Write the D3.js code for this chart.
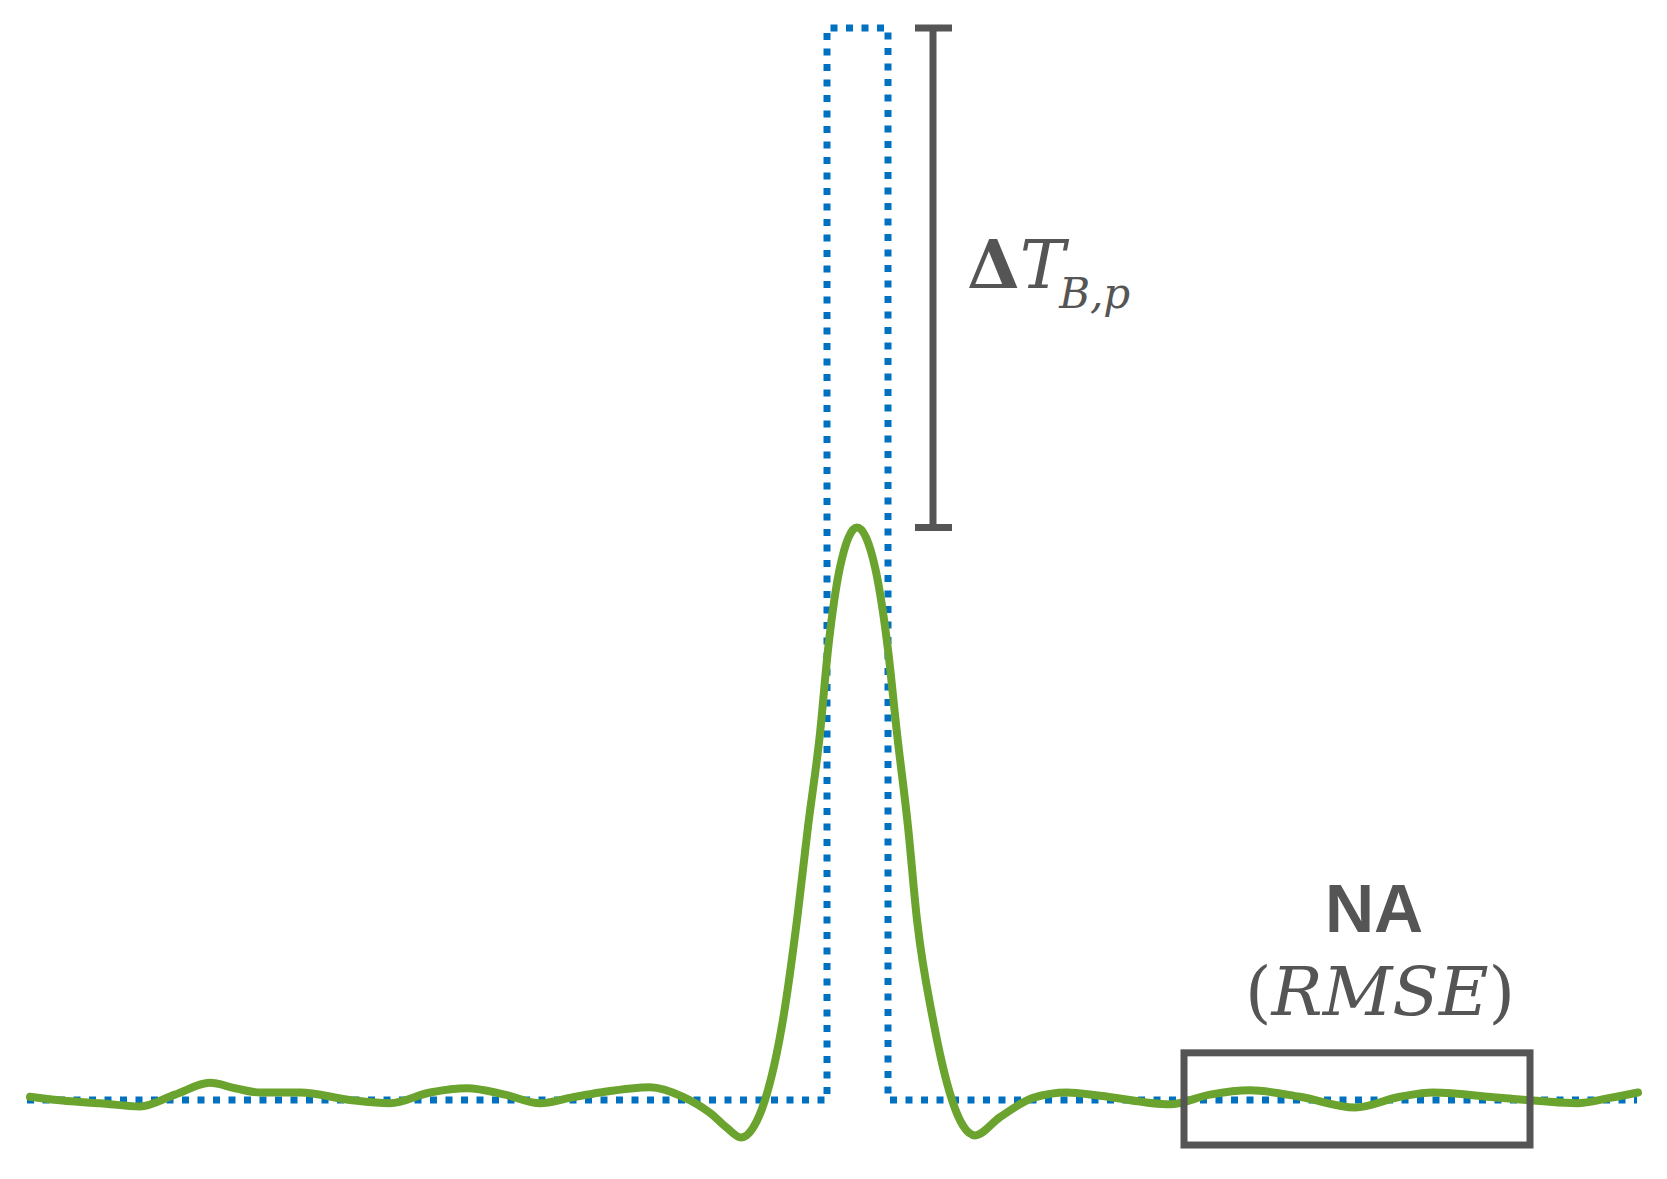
<!DOCTYPE html>
<head>
  <meta charset="utf-8">
  <script src="https://d3js.org/d3.v7.min.js"></script>
  <style>
    body { margin: 0; background: #fff; }
    .pulse { fill: none; stroke: #0070c0; stroke-width: 7px; stroke-dasharray: 7 8.5; }
    .resp { fill: none; stroke: #6aa32d; stroke-width: 8px; stroke-linejoin: round; stroke-linecap: round; }
    .anno { fill: none; stroke: #555; stroke-width: 7px; }
    .lbl { fill: #555; }
  </style>
</head>

<body>
  <script>

    // true brightness-temperature step (blue dotted)
    var pulseX = [-83, -3, -3, 3.1, 3.1, 78];
    var pulseY = [0, 0, 1, 1, 0, 0];

    // retrieved / smoothed response (green)
    var respX = [-82.7, -79, -75.7, -71.7, -68.2, -64.7, -62.2, -59.7, -55.7, -50.7,
                 -46.7, -42.7, -39, -35.2, -31.7, -28.7, -25.7, -20.7, -17.4, -14.7,
                 -13, -11.6, -10.4, -9.2, -7.4, -6, -4.9, -3.7, -2.9, -1.7,
                 0, 1.8, 3.1, 4.0, 5.1, 6.0, 7.6, 9.5, 10.6, 11.8,
                 14.3, 17.6, 21, 24.3, 31.3, 35.3, 39.3, 44.3, 49.8, 54.3,
                 57.6, 64.3, 68.3, 72, 75.3, 78.1];
    var respY = [0.003, -0.001, -0.003, -0.006, 0.005, 0.016, 0.011, 0.007, 0.007, 0.0,
                 -0.003, 0.007, 0.011, 0.005, -0.003, 0.002, 0.007, 0.012, 0.003, -0.012,
                 -0.026, -0.035, -0.026, 0, 0.075, 0.168, 0.255, 0.342, 0.42, 0.497,
                 0.534, 0.497, 0.42, 0.342, 0.255, 0.168, 0.075, 0, -0.024, -0.033,
                 -0.016, 0.002, 0.007, 0.004, -0.004, 0.005, 0.009, 0.003, -0.007, 0.003,
                 0.007, 0.002, -0.001, -0.003, 0.002, 0.007];

    // annotations
    var barX = 7.6;              // peak-difference bar
    var windowX = [32.7, 67.3];  // noise window
    var windowY = [-0.042, 0.044];
    var naLabelX = 52;

    var svg = d3.select("body").append("svg")
      .attr("width", 1667)
      .attr("height", 1179);

    var x = d3.scaleLinear().domain([-83, 78]).range([27, 1637]);
    var y = d3.scaleLinear().domain([0, 1]).range([1100, 28]);

    var pulse = pulseX.map(function(v, i) { return [v, pulseY[i]]; });
    var resp = respX.map(function(v, i) { return [v, respY[i]]; });

    var stepLine = d3.line()
        .x(function(d) { return x(d[0]); })
        .y(function(d) { return y(d[1]); });

    var smoothLine = d3.line()
        .curve(d3.curveMonotoneX)
        .x(function(d) { return x(d[0]); })
        .y(function(d) { return y(d[1]); });

    svg.append("path").datum(pulse)
      .attr("class", "pulse")
      .attr("d", stepLine);

    svg.append("path").datum(resp)
      .attr("class", "resp")
      .attr("d", smoothLine);

    // error bar between top of pulse and green peak
    var peak = d3.max(respY);
    var bx = x(barX);
    var g = svg.append("g");
    g.append("line").attr("class", "anno")
      .attr("x1", bx).attr("x2", bx)
      .attr("y1", y(1)).attr("y2", y(peak));
    [1, peak].forEach(function(v) {
      g.append("line").attr("class", "anno")
        .attr("x1", bx - 18).attr("x2", bx + 19)
        .attr("y1", y(v)).attr("y2", y(v));
    });

    var t = svg.append("text").attr("class", "lbl")
      .attr("x", bx + 34).attr("y", 288)
      .style("font-family", "'DejaVu Serif', 'Liberation Serif', serif")
      .style("font-size", "68px");
    t.append("tspan").style("font-weight", "bold").text("\u0394");
    t.append("tspan").style("font-style", "italic").text("T");
    t.append("tspan").style("font-style", "italic").style("font-size", "42px")
      .attr("dy", 20).attr("dx", -6).text("B,p");

    // noise window
    svg.append("rect").attr("class", "anno")
      .attr("x", x(windowX[0])).attr("y", y(windowY[1]))
      .attr("width", x(windowX[1]) - x(windowX[0]))
      .attr("height", y(windowY[0]) - y(windowY[1]));

    svg.append("text").attr("class", "lbl")
      .attr("x", x(naLabelX) - 3).attr("y", 932)
      .attr("text-anchor", "middle")
      .style("font-family", "'Liberation Sans', Arial, sans-serif")
      .style("font-weight", "bold")
      .style("font-size", "68px")
      .text("NA");

    var r = svg.append("text").attr("class", "lbl")
      .attr("x", x(naLabelX) + 3).attr("y", 1015)
      .attr("text-anchor", "middle")
      .style("font-family", "'DejaVu Serif', 'Liberation Serif', serif")
      .style("font-size", "68px");
    r.append("tspan").text("(");
    r.append("tspan").style("font-style", "italic").text("RMSE");
    r.append("tspan").text(")");

  </script>
</body>
